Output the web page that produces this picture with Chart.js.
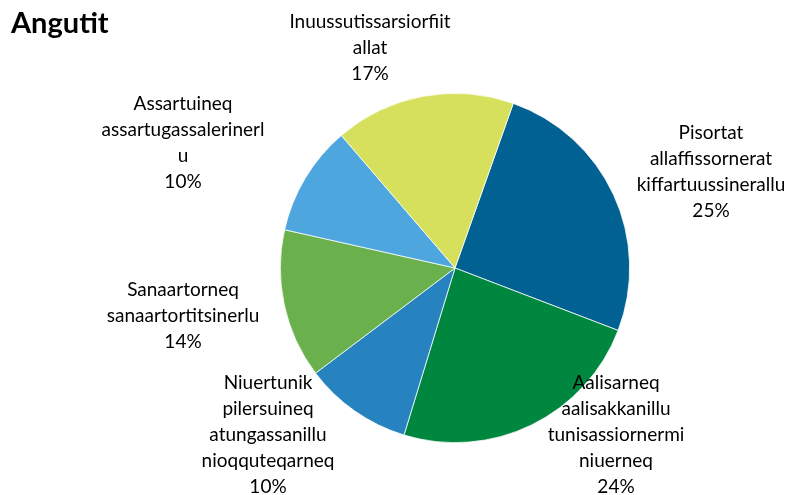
<!DOCTYPE html>
<html>
<head>
<meta charset="utf-8">
<script src="https://cdn.jsdelivr.net/npm/chart.js@4.4.0/dist/chart.umd.min.js"></script>
<style>
  html, body { margin: 0; padding: 0; background: #fff; }
  #wrap { width: 793px; height: 495px; }
</style>
</head>
<body>
<div id="wrap"><canvas id="pieChart" width="793" height="495"></canvas></div>
<script>
const categories = [
    ['Pisortat', 'allaffissornerat', 'kiffartuussinerallu'],
    ['Aalisarneq', 'aalisakkanillu', 'tunisassiornermi', 'niuerneq'],
    ['Niuertunik', 'pilersuineq', 'atungassanillu', 'nioqquteqarneq'],
    ['Sanaartorneq', 'sanaartortitsinerlu'],
    ['Assartuineq', 'assartugassalerinerl', 'u'],
    ['Inuussutissarsiorfiit', 'allat']
];
const shares = [25.4, 23.9, 10.0, 13.8, 10.2, 16.7];
const colors = ['#006192', '#00873F', '#2683BF', '#6AB04D', '#4DA6DE', '#D6E05C'];

// label centres (x, y of first line)
const labelAnchors = [
    [711, 133], [616, 383], [268, 383], [183, 290], [183, 104], [370, 22]
];

const labelPlugin = {
    id: 'sliceLabels',
    afterDraw(chart) {
        const ctx = chart.ctx;
        const total = shares.reduce((a, b) => a + b, 0);
        ctx.save();
        ctx.fillStyle = '#000';
        ctx.textAlign = 'center';
        ctx.textBaseline = 'middle';
        ctx.font = '19px Lato';
        categories.forEach((lines, i) => {
            const pct = Math.round(shares[i] / total * 100) + '%';
            const all = lines.concat([pct]);
            const [x, y] = labelAnchors[i];
            all.forEach((t, j) => ctx.fillText(t, x, y + j * 26));
        });
        ctx.font = 'bold 29px Lato';
        ctx.textAlign = 'left';
        ctx.fillText('Angutit', 11, 24);
        ctx.restore();
    }
};

document.addEventListener('DOMContentLoaded', function() {
    const ctx = document.getElementById('pieChart').getContext('2d');
    new Chart(ctx, {
        type: 'pie',
        data: {
            labels: categories.map(c => c.join(' ')),
            datasets: [{
                data: shares,
                backgroundColor: colors,
                borderColor: '#ffffff',
                borderWidth: 0.75
            }]
        },
        options: {
            responsive: false,
            animation: false,
            rotation: 19.5,
            layout: { padding: { left: 280, right: 163, top: 93, bottom: 52 } },
            plugins: {
                legend: { display: false },
                tooltip: { enabled: false }
            }
        },
        plugins: [labelPlugin]
    });
});
</script>
</body>
</html>
